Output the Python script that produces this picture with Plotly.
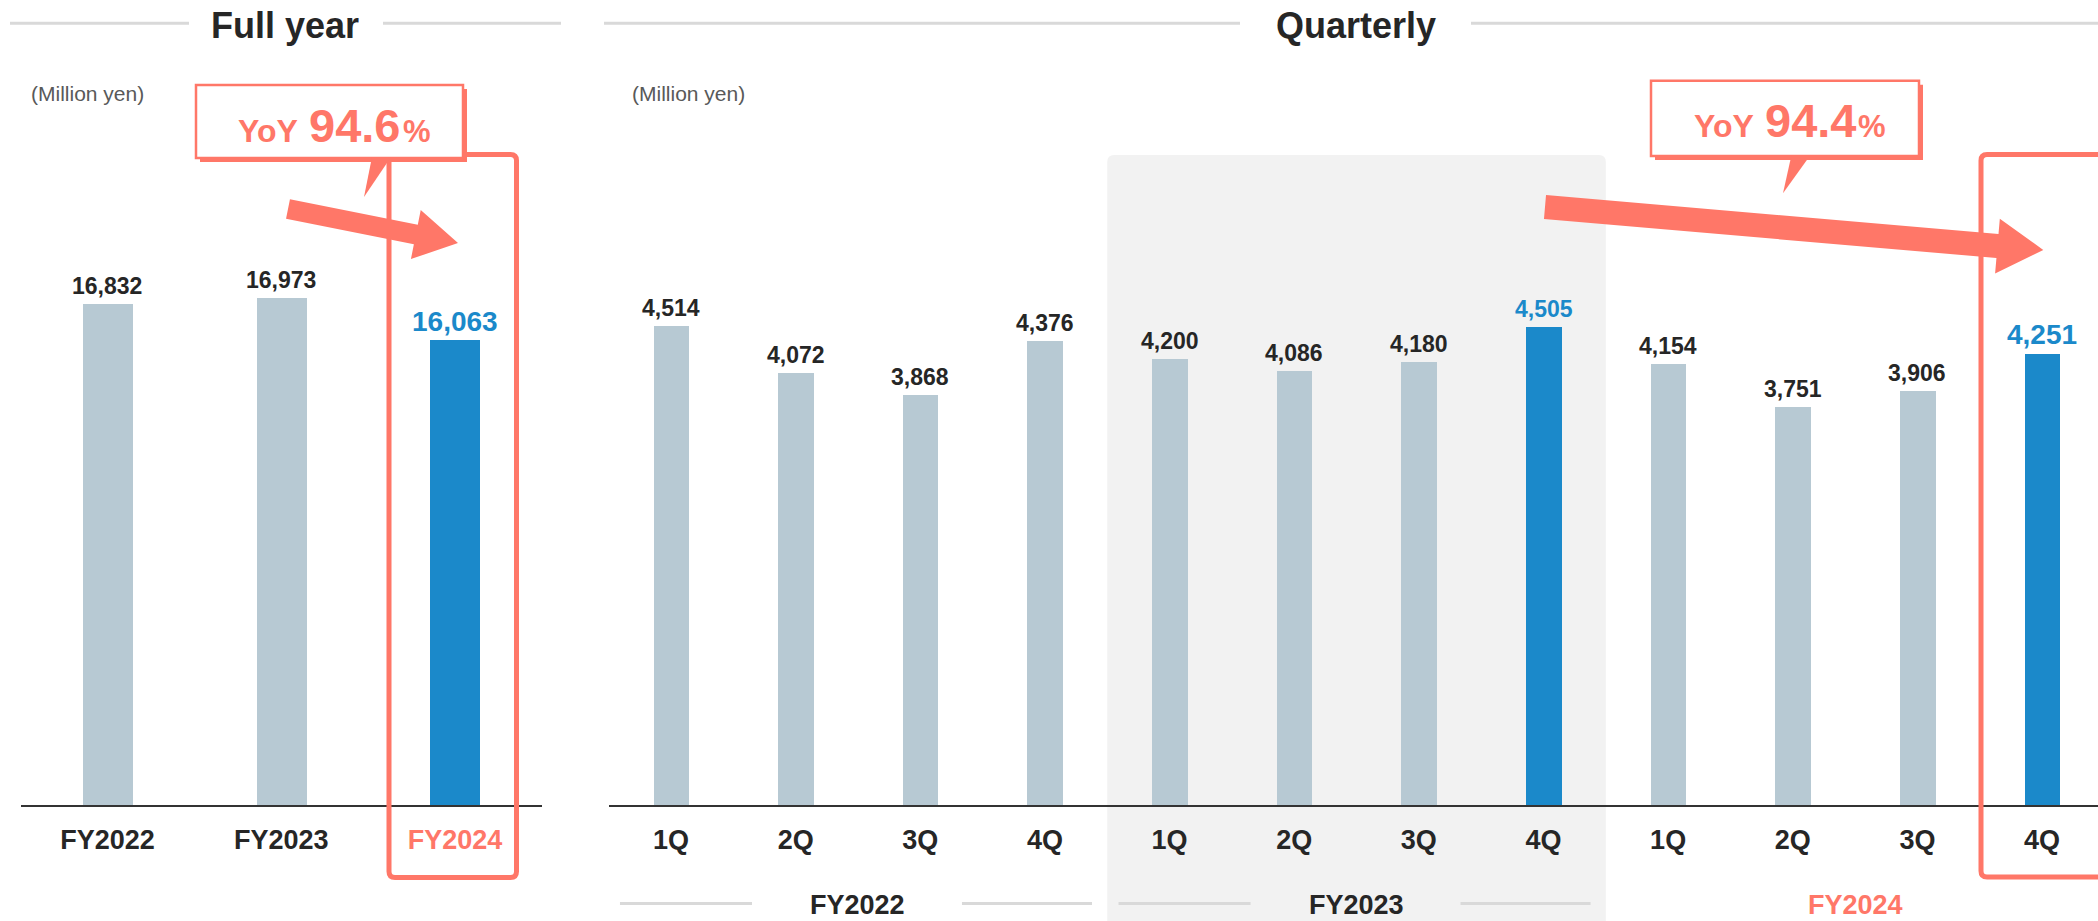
import plotly.graph_objects as go

W, H = 2098, 921

# Full-year net sales (million yen)
fy_labels = ["FY2022", "FY2023", "FY2024"]
fy_values = [16832, 16973, 16063]
fy_yoy = 94.6

# Quarterly net sales (million yen)
q_labels = ["1Q", "2Q", "3Q", "4Q", "1Q", "2Q", "3Q", "4Q", "1Q", "2Q", "3Q", "4Q"]
q_values = [4514, 4072, 3868, 4376, 4200, 4086, 4180, 4505, 4154, 3751, 3906, 4251]
q_groups = ["FY2022", "FY2023", "FY2024"]
q_yoy = 94.4

fy_focus = [2]
q_focus = [7, 11]
q_big = [11]

GRAY_BAR = "#B7C9D3"
BLUE = "#1B89CA"
SALMON = "#FF7768"
DARK = "#262626"
RULE = "#D9D9D9"
FONT = "Arial, 'Liberation Sans', sans-serif"


def px(x):
    return x / W


def py(y):
    return 1 - y / H


BASE_Y = 805.0
FY_DOM = (20.6, 541.9)
FY_STEP = (FY_DOM[1] - FY_DOM[0]) / 3
Q_LEFT = 608.7
Q_STEP = 124.64
Q_HI = 11.5 - (Q_LEFT + 12 * Q_STEP - W) / Q_STEP


def qx(i):
    return Q_LEFT + (i + 0.5) * Q_STEP


fig = go.Figure()

fig.add_trace(go.Bar(
    x=list(range(len(fy_values))), y=fy_values,
    marker=dict(color=[BLUE if i in fy_focus else GRAY_BAR for i in range(len(fy_values))], line_width=0),
    width=0.288, xaxis="x", yaxis="y", hoverinfo="skip", showlegend=False,
))
fig.add_trace(go.Bar(
    x=list(range(len(q_values))), y=q_values,
    marker=dict(color=[BLUE if i in q_focus else GRAY_BAR for i in range(len(q_values))], line_width=0),
    width=0.286, xaxis="x2", yaxis="y2", hoverinfo="skip", showlegend=False,
))

axis_common = dict(showgrid=False, zeroline=False, ticks="", showline=True,
                   linecolor="#333333", linewidth=2, fixedrange=True,
                   tickfont=dict(family=FONT, size=27, color=DARK))

fy_tick = ["<b>%s</b>" % t if i not in fy_focus else "<b><span style='color:%s'>%s</span></b>" % (SALMON, t)
           for i, t in enumerate(fy_labels)]

fig.update_layout(
    width=W, height=H,
    margin=dict(l=0, r=0, t=0, b=0),
    paper_bgcolor="white", plot_bgcolor="rgba(0,0,0,0)",
    font=dict(family=FONT, color=DARK),
    bargap=0,
    xaxis=dict(domain=[px(FY_DOM[0]), px(FY_DOM[1])], range=[-0.5, 2.5],
               tickvals=list(range(3)), ticktext=fy_tick, anchor="y",
               ticklabelstandoff=10, **axis_common),
    yaxis=dict(domain=[py(BASE_Y), 1], range=[6159, 6159 + BASE_Y / 0.04692],
               visible=False, fixedrange=True, anchor="x"),
    xaxis2=dict(domain=[px(Q_LEFT), 1], range=[-0.5, Q_HI],
                tickvals=list(range(12)), ticktext=["<b>%s</b>" % t for t in q_labels],
                anchor="y2", ticklabelstandoff=10, **axis_common),
    yaxis2=dict(domain=[py(BASE_Y), 1], range=[0, BASE_Y / 0.1061],
                visible=False, fixedrange=True, anchor="x2"),
)

shapes = []
ann = []


def pline(x0, y0, x1, y1, color=RULE, width=3):
    shapes.append(dict(type="line", xref="paper", yref="paper",
                       x0=px(x0), y0=py(y0), x1=px(x1), y1=py(y1),
                       line=dict(color=color, width=width)))


def P(x, y):
    return "%.6f,%.6f" % (px(x), py(y))


def poly(points, color):
    d = "M " + " L ".join(P(x, y) for x, y in points) + " Z"
    shapes.append(dict(type="path", xref="paper", yref="paper", path=d,
                       fillcolor=color, line=dict(width=0)))


def round_rect(x0, y0, x1, y1, r, line=None, fill=None, width=0, layer="above"):
    d = ("M %s L %s Q %s %s L %s Q %s %s L %s Q %s %s L %s Q %s %s Z" % (
        P(x0 + r, y0), P(x1 - r, y0), P(x1, y0), P(x1, y0 + r),
        P(x1, y1 - r), P(x1, y1), P(x1 - r, y1),
        P(x0 + r, y1), P(x0, y1), P(x0, y1 - r),
        P(x0, y0 + r), P(x0, y0), P(x0 + r, y0)))
    shapes.append(dict(type="path", xref="paper", yref="paper", path=d, layer=layer,
                       fillcolor=fill if fill else "rgba(0,0,0,0)",
                       line=dict(color=line if line else "rgba(0,0,0,0)", width=width)))


def text(x, y, s, size, color=DARK, bold=True, xanchor="center", yanchor="middle"):
    ann.append(dict(xref="paper", yref="paper", x=px(x), y=py(y), text=("<b>%s</b>" % s) if bold else s,
                    showarrow=False, xanchor=xanchor, yanchor=yanchor,
                    font=dict(family=FONT, size=size, color=color)))


def arrow(x0, y0, x1, y1, w, head_len, head_half):
    dx, dy = x1 - x0, y1 - y0
    L = (dx * dx + dy * dy) ** 0.5
    ux, uy = dx / L, dy / L
    nx, ny = -uy, ux
    bx, by = x1 - head_len * ux, y1 - head_len * uy
    hw = w / 2
    pts = [(x0 - nx * hw, y0 - ny * hw), (bx - nx * hw, by - ny * hw),
           (bx - nx * head_half, by - ny * head_half), (x1, y1),
           (bx + nx * head_half, by + ny * head_half), (bx + nx * hw, by + ny * hw),
           (x0 + nx * hw, y0 + ny * hw)]
    poly(pts, SALMON)


def callout(x0, y0, x1, y1, tail):
    shapes.append(dict(type="rect", xref="paper", yref="paper",
                       x0=px(x0 + 4), y0=py(y0 + 4), x1=px(x1 + 4), y1=py(y1 + 4),
                       fillcolor=SALMON, line=dict(width=0)))
    shapes.append(dict(type="rect", xref="paper", yref="paper",
                       x0=px(x0), y0=py(y0), x1=px(x1), y1=py(y1),
                       fillcolor="white", line=dict(color=SALMON, width=2.5)))
    poly(tail, SALMON)


def yoy_text(x_yoy, x_num, x_pct, baseline, value):
    bot = baseline
    ann.append(dict(xref="paper", yref="paper", x=px(x_yoy), y=py(bot + 7.8), text="<b>YoY</b>",
                    showarrow=False, xanchor="left", yanchor="bottom",
                    font=dict(family=FONT, size=32, color=SALMON)))
    ann.append(dict(xref="paper", yref="paper", x=px(x_num), y=py(bot + 11), text="<b>%.1f</b>" % value,
                    showarrow=False, xanchor="left", yanchor="bottom",
                    font=dict(family=FONT, size=47, color=SALMON)))
    ann.append(dict(xref="paper", yref="paper", x=px(x_pct), y=py(bot + 7.6), text="<b>%</b>",
                    showarrow=False, xanchor="left", yanchor="bottom",
                    font=dict(family=FONT, size=31, color=SALMON)))


# FY2023 band behind the quarterly bars
bx0, bx1 = qx(3.5), qx(7.5)
round_rect(bx0, 155, bx1, 960, 7, fill="#F2F2F2", layer="below")

# section headers
pline(10, 23.3, 189, 23.3)
pline(383, 23.3, 561, 23.3)
text(285, 25, "Full year", 36)
pline(604, 23.3, 1240, 23.3)
pline(1471, 23.3, W, 23.3)
text(1355.5, 25, "Quarterly", 36)

text(87, 93, "(Million yen)", 21, color="#595959", bold=False)
text(688.5, 93, "(Million yen)", 21, color="#595959", bold=False)

# highlight frames around the latest period
round_rect(389, 154.5, 516.5, 877.5, 6, line=SALMON, width=5)
round_rect(1981, 154.5, 2115, 877, 6, line=SALMON, width=5)

# trend arrows
arrow(288, 209, 458, 243, 20, 43, 25)
arrow(1545, 207, 2043.3, 250, 24, 46, 27.5)

# YoY callouts
callout(196, 85, 463, 158, [(372, 157), (391, 157), (364, 197)])
yoy_text(236, 307, 401, 143, fy_yoy)
callout(1651, 80.7, 1919, 156, [(1791.5, 155), (1810.5, 155), (1783, 193.3)])
yoy_text(1692, 1763, 1856, 138.5, q_yoy)

# value labels above bars
for i, v in enumerate(fy_values):
    big = i in fy_focus
    ann.append(dict(xref="x", yref="y", x=i, y=v, text="<b>{:,}</b>".format(v), showarrow=False,
                    xanchor="center", yanchor="bottom", yshift=1.5 if big else 3,
                    font=dict(family=FONT, size=28 if big else 23, color=BLUE if big else DARK)))
for i, v in enumerate(q_values):
    big = i in q_big
    ann.append(dict(xref="x2", yref="y2", x=i, y=v, text="<b>{:,}</b>".format(v), showarrow=False,
                    xanchor="center", yanchor="bottom", yshift=1.5 if big else 3,
                    font=dict(family=FONT, size=28 if big else 23, color=BLUE if i in q_focus else DARK)))

# fiscal-year group labels under the quarters
for g, name in enumerate(q_groups):
    c = 4 * g + 1.5
    color = SALMON if g == len(q_groups) - 1 else DARK
    ann.append(dict(xref="x2", yref="paper", x=c, y=py(904.5), text="<b>%s</b>" % name, showarrow=False,
                    xanchor="center", yanchor="middle",
                    font=dict(family=FONT, size=27, color=color)))
    if g < len(q_groups) - 1:
        cx = qx(c)
        pline(cx - 238, 903.5, cx - 106, 903.5)
        pline(cx + 104, 903.5, cx + 234, 903.5)

fig.update_layout(shapes=shapes, annotations=ann)
fig.write_html("out.html", config={"displayModeBar": False})
